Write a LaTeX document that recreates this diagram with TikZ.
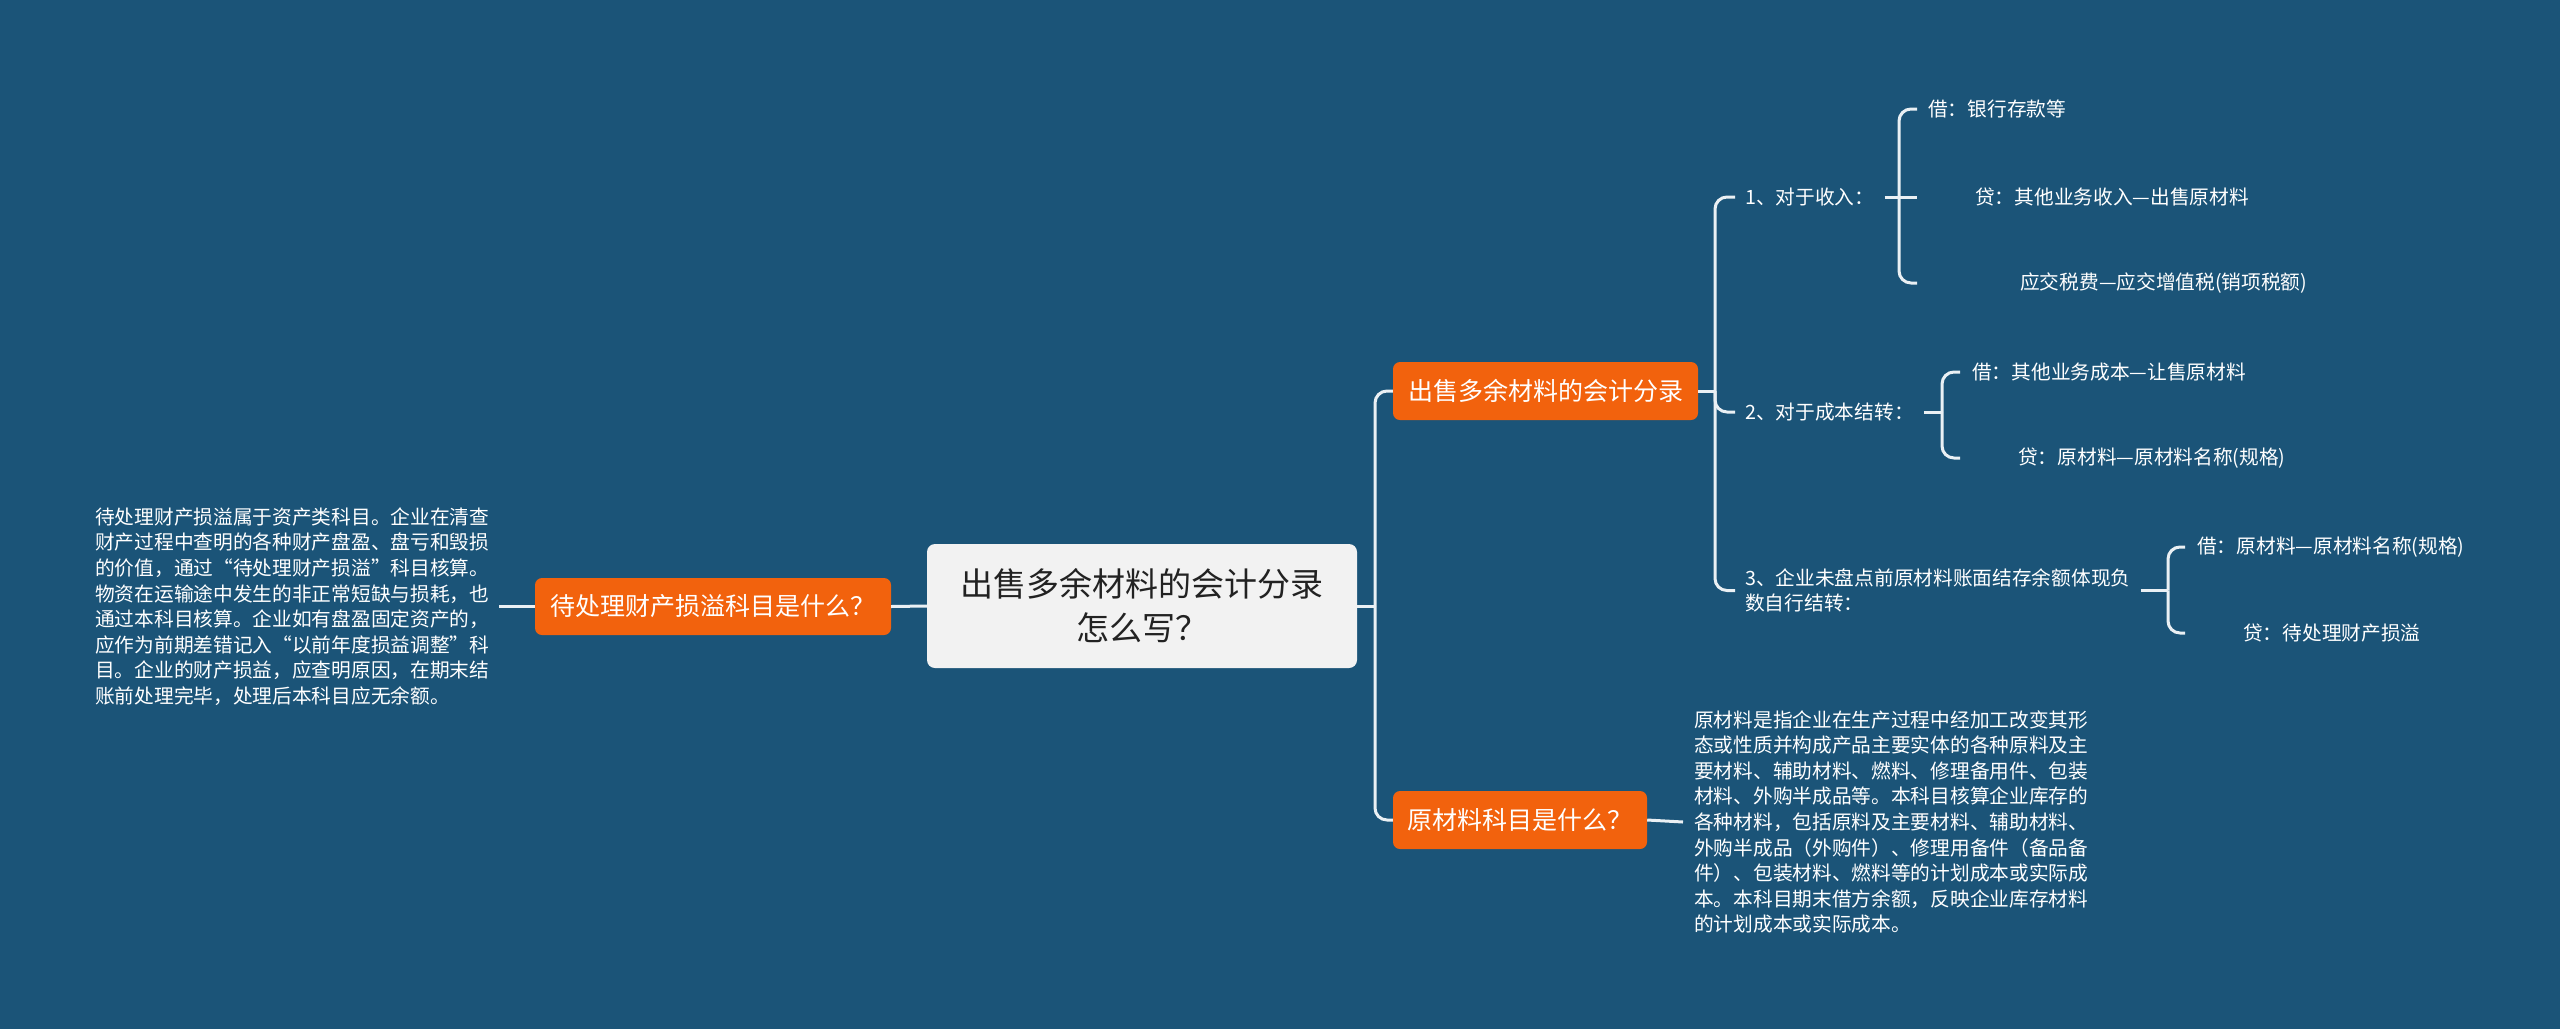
\documentclass[tikz,border=0pt]{standalone}
\usepackage{fontspec}
\newfontfamily\cjk{Noto Sans CJK SC}
\definecolor{bg}{HTML}{1B5478}
\definecolor{org}{HTML}{F2620D}
\definecolor{cen}{HTML}{F2F2F2}
\definecolor{lnk}{HTML}{EAF0F4}
\definecolor{ctext}{HTML}{222222}
\begin{document}
\begin{tikzpicture}[x=1pt,y=-1pt,
  conn/.style={draw=lnk, line width=3pt},
  elbow/.style={conn, rounded corners=12pt},
  topic/.style={fill=org, rounded corners=7pt, text=white, inner sep=0pt,
    font=\cjk\fontsize{25}{30}\selectfont},
  leaf/.style={text=white, font=\cjk\fontsize{19.7}{25}\selectfont,
    inner ysep=2pt, inner xsep=0pt, anchor=west, align=left},
  para/.style={leaf, font=\cjk\fontsize{19.7}{25.6}\selectfont}
]
\useasboundingbox (0,0) rectangle (2560,1029);
\fill[bg] (0,0) rectangle (2560,1029);

% central
\node[fill=cen, rounded corners=8pt, minimum width=430pt, minimum height=124pt,
  inner sep=0pt, align=center, text=ctext, font=\cjk\fontsize{33}{44}\selectfont]
  (central) at (1142,606) {出售多余材料的会计分录\\怎么写？};

% main topics
\node[topic, minimum width=356pt, minimum height=57pt] (L) at (713,606.5) {待处理财产损溢科目是什么？};
\node[topic, minimum width=305pt, minimum height=58pt] (b1) at (1545.5,391) {出售多余材料的会计分录};
\node[topic, minimum width=254pt, minimum height=58pt] (b2) at (1520,820) {原材料科目是什么？};

% left paragraph
\node[para, inner xsep=10pt] (lt) at (85,606.5) {待处理财产损溢属于资产类科目。企业在清查\\财产过程中查明的各种财产盘盈、盘亏和毁损\\的价值，通过“待处理财产损溢”科目核算。\\物资在运输途中发生的非正常短缺与损耗，也\\通过本科目核算。企业如有盘盈固定资产的，\\应作为前期差错记入“以前年度损益调整”科\\目。企业的财产损益，应查明原因，在期末结\\账前处理完毕，处理后本科目应无余额。};

% right paragraph
\node[para, inner xsep=11pt] (rt) at (1683,822) {原材料是指企业在生产过程中经加工改变其形\\态或性质并构成产品主要实体的各种原料及主\\要材料、辅助材料、燃料、修理备用件、包装\\材料、外购半成品等。本科目核算企业库存的\\各种材料，包括原料及主要材料、辅助材料、\\外购半成品（外购件）、修理用备件（备品备\\件）、包装材料、燃料等的计划成本或实际成\\本。本科目期末借方余额，反映企业库存材料\\的计划成本或实际成本。};

% items
\node[leaf, inner xsep=10pt] (i1) at (1735,197) {1、对于收入：};
\node[leaf, inner xsep=10pt] (i2) at (1735,412) {2、对于成本结转：};
\node[leaf, inner xsep=10pt] (i3) at (1735,590.5) {3、企业未盘点前原材料账面结存余额体现负\\数自行结转：};

% children
\node[leaf, inner xsep=11pt] (c11) at (1917,109) {借：银行存款等};
\node[leaf, inner xsep=11pt] (c12) at (1917,197) {\hspace*{47pt}贷：其他业务收入—出售原材料};
\node[leaf, inner xsep=11pt] (c13) at (1917,283) {\hspace*{92pt}应交税费—应交增值税(销项税额)};
\node[leaf, inner xsep=12pt] (c21) at (1960,372) {借：其他业务成本—让售原材料};
\node[leaf, inner xsep=12pt] (c22) at (1960,458) {\hspace*{46pt}贷：原材料—原材料名称(规格)};
\node[leaf, inner xsep=12pt] (c31) at (2185,547) {借：原材料—原材料名称(规格)};
\node[leaf, inner xsep=12pt] (c32) at (2185,633) {\hspace*{46pt}贷：待处理财产损溢};

% connectors
\coordinate (j1) at (1375,606);
\draw[conn] (central.east) -- (j1);
\draw[elbow] (j1) |- (b1.west);
\draw[elbow] (j1) |- (b2.west);
\draw[conn] (central.west) -- (L.east);
\draw[conn] (L.west) -- (lt.east);
\draw[conn] (b2.east) -- (rt.west);

\coordinate (j2) at (1715,391);
\draw[conn] (b1.east) -- (j2);
\draw[elbow] (j2) |- (i1.west);
\draw[elbow] (j2) |- (i2.west);
\draw[elbow] (j2) |- (i3.west);

\coordinate (k1) at (1899,197);
\draw[conn] (i1.east) -- (c12.west);
\draw[elbow] (k1) |- (c11.west);
\draw[elbow] (k1) |- (c13.west);

\coordinate (k2) at (1942,412);
\draw[conn] (i2.east) -- (k2);
\draw[elbow] (k2) |- (c21.west);
\draw[elbow] (k2) |- (c22.west);

\coordinate (k3) at (2168,590.5);
\draw[conn] (i3.east) -- (k3);
\draw[elbow] (k3) |- (c31.west);
\draw[elbow] (k3) |- (c32.west);
\end{tikzpicture}
\end{document}
